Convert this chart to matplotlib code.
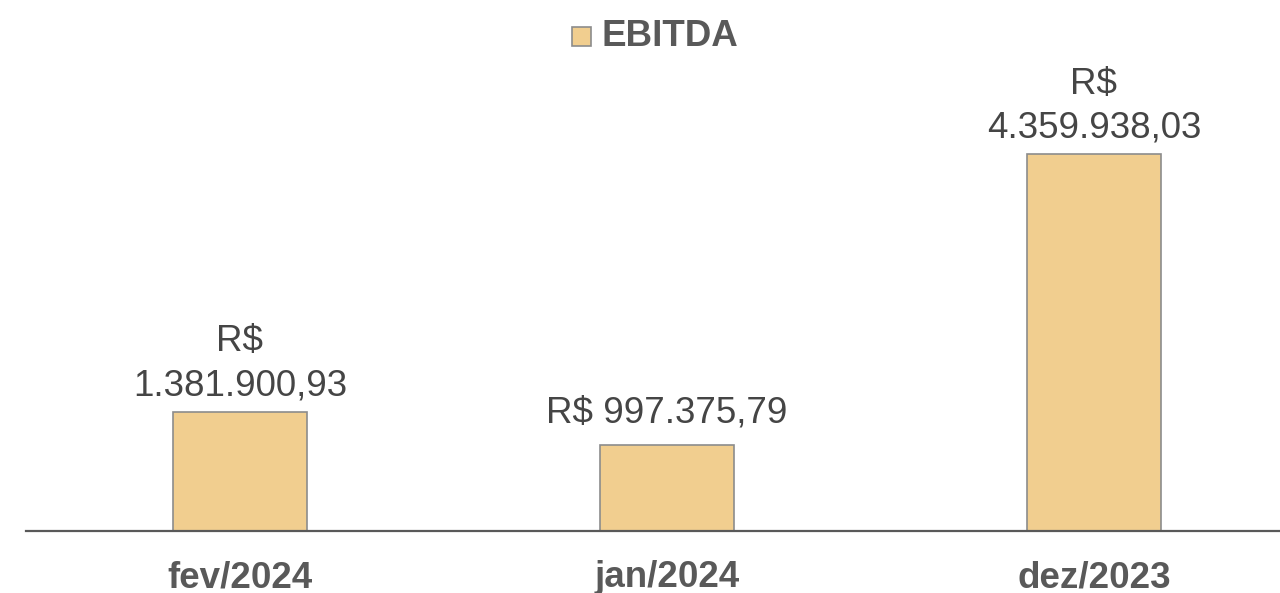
import matplotlib
matplotlib.use("Agg")
import matplotlib.pyplot as plt
from matplotlib.patches import Rectangle

plt.rcParams["font.family"] = ["Liberation Sans", "DejaVu Sans"]

# dados
categorias = ["fev/2024", "jan/2024", "dez/2023"]
ebitda = [1381900.93, 997375.79, 4359938.03]
rotulos = ["R$\n1.381.900,93", "R$ 997.375,79", "R$\n4.359.938,03"]

cor_barra = "#F1CE8F"
cor_borda = "#8C8C8C"
cor_texto = "#595959"

fig = plt.figure(figsize=(12.8, 5.93), dpi=100)
ax = fig.add_axes([26 / 1280, 62 / 593, 1 - 26 / 1280, 476 / 593])

x = range(len(categorias))
bars = ax.bar(x, ebitda, width=0.314, color=cor_barra, edgecolor=cor_borda,
              linewidth=1.2, zorder=2)

for b, txt in zip(bars, rotulos):
    # rótulos de duas linhas ficam um pouco mais perto da barra
    desloc = 6 if "\n" in txt else 10
    ax.annotate(txt, (b.get_x() + b.get_width() / 2, b.get_height()),
                xytext=(0, desloc), textcoords="offset points",
                ha="center", va="bottom", fontsize=26.5, color="#454545",
                linespacing=1.33)

ax.set_xlim(-0.501, 2.4356)
ax.set_ylim(0, 476 * 11565)
ax.set_xticks(list(x))
ax.set_xticklabels(categorias, fontsize=26.5, fontweight="bold", color=cor_texto)
ax.tick_params(axis="x", length=0, pad=21)
ax.set_yticks([])
for s in ["top", "right", "left"]:
    ax.spines[s].set_visible(False)
ax.spines["bottom"].set_color(cor_texto)
ax.spines["bottom"].set_linewidth(1.6)

# legenda
fig.patches.append(Rectangle((572 / 1280, 1 - 46 / 593), 19 / 1280, 19 / 593,
                             transform=fig.transFigure, facecolor=cor_barra,
                             edgecolor=cor_borda, linewidth=1.2))
fig.text(602 / 1280, 1 - 37 / 593, "EBITDA", fontsize=26.5, fontweight="bold",
         color=cor_texto, ha="left", va="center")

fig.savefig("out.png", dpi=100)
